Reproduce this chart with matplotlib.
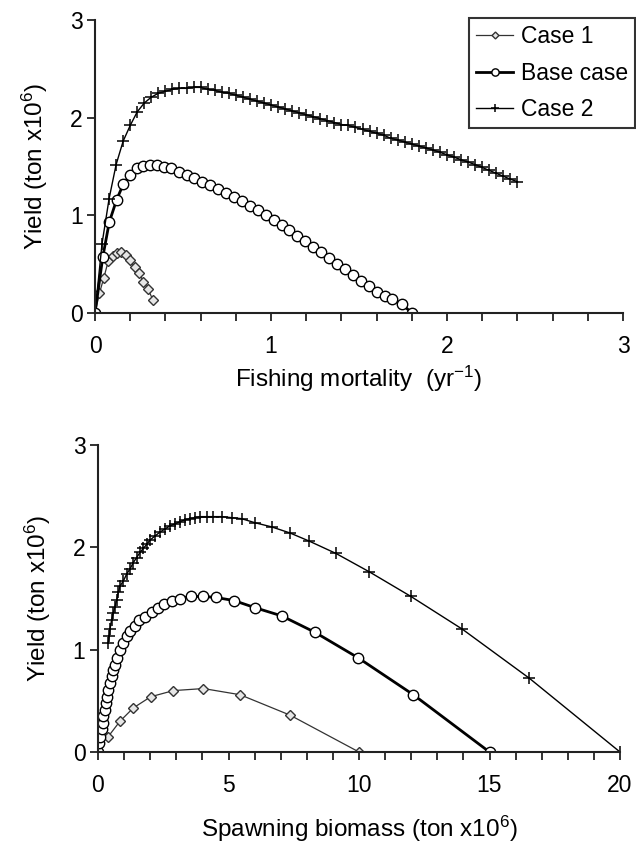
import matplotlib
matplotlib.use("Agg")
import matplotlib.pyplot as plt
from matplotlib.ticker import MultipleLocator

plt.rcParams['font.family'] = ['Liberation Sans', 'DejaVu Sans']
plt.rcParams['mathtext.default'] = 'regular'

# ---------------- Top panel: Yield vs fishing mortality ----------------
f_case1 = [0, 0.025, 0.05, 0.075, 0.10, 0.125, 0.15, 0.175, 0.20, 0.225, 0.25, 0.275, 0.30, 0.33]
y_case1_f = [0, 0.20, 0.36, 0.53, 0.58, 0.61, 0.62, 0.59, 0.54, 0.47, 0.41, 0.32, 0.25, 0.13]

f_base = [0, 0.044, 0.081, 0.123, 0.161, 0.199, 0.237, 0.274, 0.312, 0.35, 0.39,
          0.43, 0.475, 0.52, 0.565, 0.61, 0.655, 0.70, 0.745, 0.79, 0.835, 0.88,
          0.925, 0.97, 1.015, 1.06, 1.105, 1.15, 1.195, 1.24, 1.285, 1.33, 1.375,
          1.42, 1.465, 1.51, 1.555, 1.60, 1.645, 1.69, 1.745, 1.80]
y_base_f = [0, 0.57, 0.93, 1.16, 1.32, 1.41, 1.48, 1.51, 1.52, 1.52, 1.50,
            1.48, 1.44, 1.41, 1.38, 1.34, 1.31, 1.27, 1.23, 1.19, 1.15, 1.10,
            1.05, 1.00, 0.95, 0.90, 0.85, 0.79, 0.74, 0.68, 0.62, 0.56, 0.50,
            0.45, 0.39, 0.33, 0.28, 0.22, 0.17, 0.14, 0.09, 0.0]

f_case2 = [0, 0.04, 0.08, 0.12, 0.16, 0.20, 0.24, 0.28, 0.32, 0.36, 0.40, 0.44,
           0.48, 0.52, 0.56, 0.60, 0.64, 0.68, 0.72, 0.76, 0.80, 0.84, 0.88, 0.92,
           0.96, 1.00, 1.04, 1.08, 1.12, 1.16, 1.20, 1.24, 1.28, 1.32, 1.36, 1.40,
           1.44, 1.48, 1.52, 1.56, 1.60, 1.64, 1.68, 1.72, 1.76, 1.80, 1.84, 1.88,
           1.92, 1.96, 2.00, 2.04, 2.08, 2.12, 2.16, 2.20, 2.24, 2.28, 2.32, 2.36, 2.40]
y_case2_f = [0, 0.71, 1.17, 1.52, 1.76, 1.92, 2.06, 2.15, 2.21, 2.25, 2.27, 2.29,
             2.30, 2.30, 2.31, 2.31, 2.29, 2.28, 2.26, 2.25, 2.23, 2.21, 2.19, 2.17,
             2.15, 2.13, 2.11, 2.09, 2.07, 2.05, 2.03, 2.01, 1.99, 1.97, 1.95, 1.93,
             1.92, 1.90, 1.88, 1.86, 1.84, 1.82, 1.79, 1.77, 1.75, 1.73, 1.71, 1.69,
             1.67, 1.645, 1.62, 1.595, 1.57, 1.545, 1.52, 1.49, 1.46, 1.43, 1.40, 1.37, 1.345]

# ---------------- Bottom panel: Yield vs spawning biomass ----------------
b_case1 = [0.39, 0.84, 1.35, 2.02, 2.89, 4.04, 5.44, 7.36, 10.0]
y_case1_b = [0.15, 0.30, 0.43, 0.54, 0.60, 0.62, 0.56, 0.36, 0.0]

b_base = [0.0, 0.05, 0.08, 0.14, 0.18, 0.20, 0.27, 0.31, 0.33, 0.40, 0.46, 0.52,
          0.59, 0.65, 0.72, 0.84, 0.97, 1.10, 1.23, 1.42, 1.58, 1.80, 2.06, 2.31,
          2.53, 2.82, 3.14, 3.56, 4.04, 4.52, 5.21, 6.02, 7.04, 8.31, 9.97, 12.08, 15.0]
y_base_b = [0.0, 0.085, 0.15, 0.22, 0.28, 0.35, 0.41, 0.48, 0.54, 0.61, 0.67, 0.74,
            0.80, 0.85, 0.92, 1.00, 1.07, 1.13, 1.18, 1.23, 1.29, 1.32, 1.37, 1.41,
            1.45, 1.48, 1.50, 1.52, 1.52, 1.51, 1.48, 1.41, 1.33, 1.17, 0.92, 0.56, 0.0]

b_case2 = [0.39, 0.43, 0.46, 0.52, 0.59, 0.65, 0.72, 0.78, 0.84, 0.97, 1.10, 1.23,
           1.35, 1.48, 1.61, 1.74, 1.87, 1.99, 2.18, 2.38, 2.57, 2.76, 2.95, 3.14,
           3.33, 3.52, 3.72, 3.91, 4.16, 4.42, 4.74, 5.12, 5.50, 6.02, 6.65, 7.36,
           8.10, 9.12, 10.40, 11.99, 13.96, 16.53, 20.0]
y_case2_b = [1.07, 1.13, 1.20, 1.29, 1.36, 1.42, 1.49, 1.56, 1.62, 1.67, 1.74, 1.79,
             1.85, 1.90, 1.95, 1.99, 2.03, 2.07, 2.11, 2.15, 2.18, 2.21, 2.23, 2.25,
             2.27, 2.28, 2.29, 2.30, 2.30, 2.30, 2.30, 2.29, 2.28, 2.24, 2.20, 2.14,
             2.06, 1.94, 1.76, 1.52, 1.20, 0.72, 0.0]

labels = ["Case 1", "Base case", "Case 2"]

fig = plt.figure(figsize=(6.36, 8.48), dpi=100)
ax1 = fig.add_axes([95/636, 1-313/848, (623-95)/636, (313-20)/848])
ax2 = fig.add_axes([98/636, 1-752/848, (620-98)/636, (752-445)/848])

st1 = dict(color='#333333', lw=0.9, marker='D', ms=5, mfc='#e6e6e6', mec='#333333', mew=1.0)
stb = dict(color='black', lw=2.0, marker='o', ms=7.5, mfc='white', mec='black', mew=1.0)
st2 = dict(color='black', lw=1.0, marker='+', ms=8, mew=1.1)

ax1.plot(f_case1, y_case1_f, label=labels[0], **st1)
ax1.plot(f_base, y_base_f, label=labels[1], **stb)
ax1.plot(f_case2, y_case2_f, label=labels[2], **st2)

ax2.plot(b_case1, y_case1_b, **st1)
ax2.plot(b_base, y_base_b, **stb)
ax2.plot(b_case2, y_case2_b, **st2)

for ax in (ax1, ax2):
    for s in ('top', 'right'):
        ax.spines[s].set_visible(False)
    for s in ('left', 'bottom'):
        ax.spines[s].set_linewidth(1.5)
        ax.spines[s].set_color('#222222')
    ax.set_ylim(0, 3)
    ax.yaxis.set_major_locator(MultipleLocator(1))
    ax.tick_params(axis='both', which='both', direction='out', length=6, width=1.3,
                   color='#222222', labelsize=16.5)
    ax.tick_params(axis='x', which='both', pad=10)
    ax.tick_params(axis='y', pad=3)
    ax.set_ylabel('Yield (ton x10$^6$)', fontsize=17.5, labelpad=14)

ax1.set_xlim(0, 3)
ax1.xaxis.set_major_locator(MultipleLocator(1))
ax1.xaxis.set_minor_locator(MultipleLocator(0.2))
ax1.set_xlabel('Fishing mortality  (yr$^{-1}$)', fontsize=17.5, labelpad=4)

ax2.set_xlim(0, 20)
ax2.xaxis.set_major_locator(MultipleLocator(5))
ax2.xaxis.set_minor_locator(MultipleLocator(1))
ax2.set_xlabel('Spawning biomass (ton x10$^6$)', fontsize=17.5, labelpad=12)

for ax in (ax1, ax2):
    for lab in ax.get_xticklabels() + ax.get_yticklabels():
        lab.set_clip_on(False)

leg = ax1.legend(loc='upper right', bbox_to_anchor=(635/636, 1-18/848),
                 bbox_transform=fig.transFigure, fontsize=16.5, frameon=True,
                 fancybox=False, edgecolor='black', handlelength=1.6,
                 handletextpad=0.35, borderpad=0.3, labelspacing=0.6,
                 borderaxespad=0)
leg.get_frame().set_linewidth(1.5)
for h in leg.legend_handles:
    h.set_markersize(h.get_markersize() * 0.7)

fig.savefig('out.png', dpi=100)
